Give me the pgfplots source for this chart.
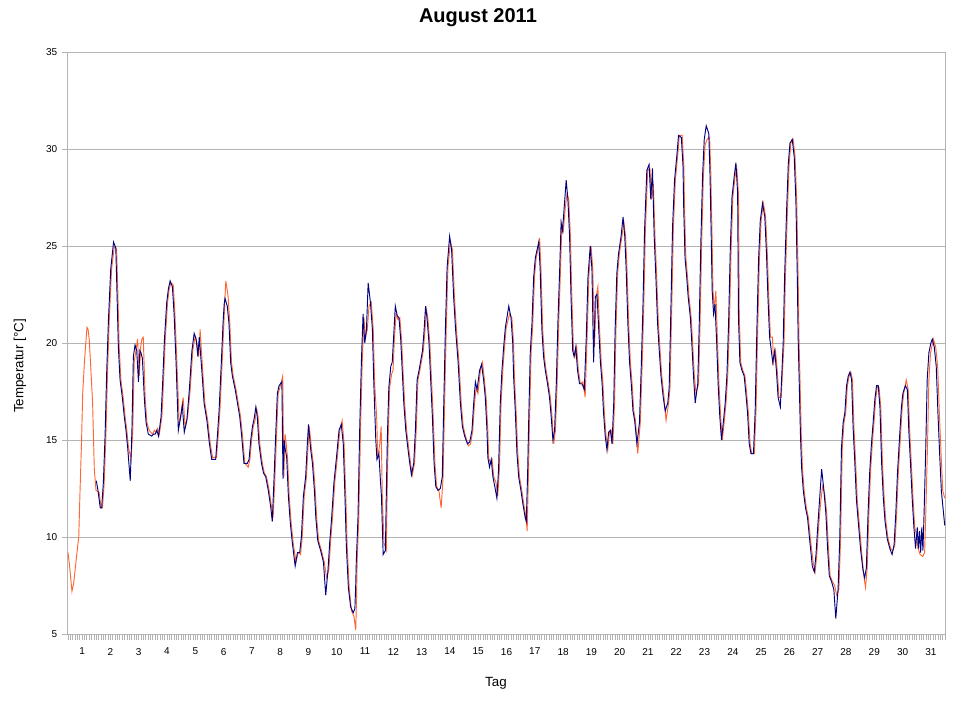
\documentclass[border=0pt]{standalone}
\usepackage{pgfplots}
\pgfplotsset{compat=1.18}
\usepackage{pgfplotstable}
\usepackage{fontspec}
\setmainfont{Liberation Sans}
\definecolor{ora}{RGB}{255,102,51}
\definecolor{nav}{RGB}{0,0,128}
\definecolor{gridc}{RGB}{179,179,179}
\pgfplotstableread{
d T
0.00 9.2
0.05 8.6
0.14 7.2
0.20 7.6
0.28 8.7
0.38 10.0
0.42 12.1
0.48 15.0
0.52 17.4
0.58 19.0
0.67 20.8
0.71 20.7
0.75 20.2
0.81 18.6
0.87 16.9
0.93 13.5
0.99 12.4
1.10 12.3
1.17 11.5
1.22 11.5
1.28 12.8
1.34 15.2
1.40 18.6
1.46 21.2
1.54 23.8
1.64 25.0
1.72 24.8
1.76 22.7
1.81 19.8
1.87 18.1
1.95 17.2
2.02 16.2
2.08 15.5
2.14 14.6
2.23 14.0
2.29 15.5
2.34 19.0
2.40 19.6
2.46 20.2
2.52 18.3
2.57 19.8
2.61 20.2
2.66 20.3
2.73 17.1
2.79 15.9
2.87 15.5
2.99 15.3
3.05 15.5
3.11 15.4
3.17 15.6
3.23 15.3
3.32 16.2
3.38 18.1
3.44 20.2
3.52 22.1
3.58 22.8
3.64 23.1
3.72 23.0
3.78 21.5
3.85 19.0
3.93 15.9
3.99 16.2
4.07 17.2
4.14 15.7
4.23 16.2
4.32 17.6
4.41 19.6
4.49 20.3
4.56 20.0
4.62 19.3
4.67 20.7
4.76 18.6
4.84 16.9
4.94 16.0
5.03 14.8
5.11 14.1
5.25 14.1
5.31 15.2
5.37 16.5
5.45 19.0
5.51 21.0
5.55 22.4
5.58 23.2
5.66 22.4
5.72 21.0
5.78 19.0
5.84 18.3
5.94 17.6
6.02 16.9
6.10 16.2
6.17 15.2
6.25 13.8
6.37 13.6
6.43 14.0
6.49 15.0
6.55 15.7
6.61 16.0
6.67 16.6
6.72 16.2
6.78 14.8
6.87 13.8
6.94 13.3
7.02 13.1
7.11 12.4
7.20 11.5
7.25 11.0
7.31 12.9
7.37 15.2
7.43 17.4
7.49 17.7
7.59 18.3
7.63 13.1
7.67 15.3
7.70 15.0
7.76 14.1
7.82 12.1
7.89 10.7
7.96 9.7
8.06 8.7
8.14 9.2
8.22 9.1
8.28 10.0
8.35 12.1
8.43 13.1
8.49 14.8
8.53 15.7
8.61 14.5
8.67 13.8
8.74 12.4
8.79 11.0
8.86 9.8
8.96 9.3
9.06 8.7
9.14 7.9
9.22 8.3
9.28 9.7
9.35 11.0
9.43 12.8
9.52 14.1
9.61 15.5
9.69 16.0
9.76 14.8
9.82 12.1
9.87 9.5
9.94 7.4
10.02 6.2
10.11 5.9
10.17 5.2
10.20 6.9
10.22 8.7
10.28 11.0
10.34 15.5
10.40 19.0
10.46 21.3
10.52 20.3
10.58 20.7
10.64 21.9
10.72 22.1
10.79 20.7
10.84 17.9
10.91 16.2
10.95 14.0
11.02 14.8
11.07 15.7
11.11 12.1
11.17 9.7
11.25 9.3
11.28 12.1
11.32 15.2
11.37 17.7
11.44 18.4
11.49 18.6
11.54 20.3
11.60 21.5
11.67 21.2
11.73 21.3
11.79 20.2
11.85 18.4
11.90 16.9
11.97 15.5
12.05 14.5
12.11 13.8
12.17 13.2
12.25 13.8
12.31 15.5
12.37 18.1
12.44 18.6
12.50 19.1
12.56 19.6
12.61 20.5
12.67 21.7
12.72 21.3
12.79 20.0
12.85 18.1
12.91 16.2
12.97 13.8
13.03 12.6
13.11 12.4
13.19 11.5
13.26 13.1
13.31 16.7
13.37 20.7
13.43 23.9
13.52 25.2
13.59 24.8
13.66 22.4
13.73 20.7
13.82 19.0
13.90 16.9
13.97 15.7
14.05 15.2
14.15 14.7
14.23 14.8
14.31 15.5
14.37 16.9
14.43 17.7
14.49 17.4
14.58 18.6
14.65 19.0
14.72 18.1
14.78 17.2
14.84 15.5
14.87 14.1
14.93 13.8
14.99 14.0
15.05 13.1
15.13 12.8
15.19 12.1
15.25 13.5
15.31 16.9
15.37 18.6
15.43 19.8
15.49 20.8
15.61 21.5
15.69 21.3
15.75 20.0
15.78 18.3
15.84 16.5
15.90 14.3
15.96 13.1
16.04 12.4
16.11 11.7
16.19 11.0
16.23 10.3
16.28 13.5
16.31 15.7
16.37 19.5
16.43 21.0
16.49 23.4
16.55 24.4
16.61 24.8
16.67 25.4
16.72 23.8
16.78 20.7
16.84 19.3
16.90 18.6
16.98 17.9
17.05 17.2
17.11 16.2
17.17 14.8
17.23 15.5
17.29 17.9
17.35 21.2
17.41 23.8
17.46 26.2
17.51 25.8
17.58 27.0
17.64 27.7
17.70 27.4
17.76 25.5
17.81 22.4
17.87 19.6
17.92 19.3
17.98 19.8
18.04 18.6
18.11 17.9
18.20 18.0
18.28 17.2
18.35 20.3
18.41 23.4
18.49 25.0
18.55 23.8
18.61 19.8
18.67 22.4
18.73 22.9
18.79 20.7
18.85 19.0
18.91 17.9
18.96 16.4
19.02 15.2
19.08 14.5
19.14 15.4
19.20 15.5
19.26 14.8
19.32 16.9
19.37 20.7
19.43 23.6
19.49 24.6
19.58 25.5
19.65 26.2
19.71 25.5
19.76 23.8
19.82 21.0
19.88 19.0
19.94 17.9
20.00 16.5
20.06 16.0
20.14 14.3
20.23 15.9
20.29 18.6
20.35 21.7
20.41 25.8
20.49 28.9
20.57 29.0
20.63 27.4
20.69 28.2
20.75 25.5
20.81 23.4
20.87 21.0
20.93 19.6
20.99 18.3
21.07 17.2
21.14 16.0
21.23 16.9
21.28 17.7
21.34 21.7
21.40 26.0
21.47 28.4
21.56 29.8
21.61 30.7
21.71 30.7
21.77 29.1
21.79 27.2
21.84 24.4
21.90 23.4
21.95 22.4
22.03 21.3
22.08 20.0
22.14 18.3
22.20 17.4
22.29 17.9
22.34 20.8
22.40 25.2
22.46 28.6
22.52 30.2
22.59 30.5
22.68 30.6
22.72 28.9
22.76 26.0
22.80 22.7
22.85 21.7
22.90 22.7
22.96 20.0
23.01 17.9
23.07 16.2
23.13 15.0
23.20 16.0
23.26 16.9
23.32 18.3
23.38 21.0
23.44 24.8
23.50 27.5
23.58 28.6
23.64 29.0
23.70 27.7
23.73 21.3
23.78 19.0
23.85 18.6
23.93 18.3
23.99 17.4
24.05 16.4
24.11 14.8
24.17 14.3
24.26 14.3
24.32 16.5
24.38 20.7
24.44 24.3
24.50 26.3
24.58 27.2
24.66 26.5
24.72 24.6
24.77 22.4
24.83 20.3
24.90 20.3
24.94 19.0
25.01 19.6
25.07 18.6
25.13 17.2
25.21 17.2
25.31 20.0
25.36 23.4
25.43 26.8
25.49 29.2
25.55 30.3
25.63 30.5
25.70 29.6
25.76 27.3
25.81 23.3
25.84 20.2
25.88 17.8
25.92 15.3
25.96 13.6
26.02 12.4
26.10 11.5
26.17 11.0
26.25 9.8
26.34 8.7
26.41 8.2
26.47 9.1
26.53 10.5
26.60 11.7
26.67 12.6
26.75 12.2
26.82 11.2
26.88 9.4
26.94 8.0
27.02 7.7
27.10 7.5
27.17 7.0
27.25 7.3
27.31 9.9
27.37 14.6
27.43 15.9
27.49 16.4
27.55 17.8
27.61 18.3
27.67 18.5
27.73 18.1
27.78 15.7
27.84 13.9
27.90 11.9
27.98 10.5
28.05 9.3
28.13 8.0
28.19 7.4
28.25 8.4
28.31 11.2
28.37 13.4
28.43 14.8
28.49 15.9
28.55 17.1
28.61 17.8
28.67 17.7
28.73 16.7
28.79 13.8
28.85 12.0
28.91 10.8
28.99 9.9
29.08 9.4
29.16 9.3
29.23 9.6
29.29 11.2
29.35 13.3
29.43 15.3
29.49 16.7
29.54 17.4
29.63 18.1
29.70 17.6
29.75 15.5
29.81 13.8
29.87 12.0
29.93 10.5
29.99 10.1
30.05 9.4
30.12 9.1
30.21 9.0
30.28 9.2
30.32 11.2
30.38 14.6
30.43 18.1
30.49 19.5
30.56 20.0
30.59 20.2
30.67 19.8
30.74 18.8
30.80 16.4
30.86 14.3
30.92 12.4
30.99 12.0
}\orangedata
\pgfplotstableread{
d T
1.00 12.9
1.06 12.4
1.14 11.5
1.19 11.5
1.25 12.8
1.31 15.2
1.37 18.6
1.43 21.2
1.51 23.8
1.61 25.2
1.69 24.9
1.73 22.7
1.78 19.8
1.84 18.1
1.92 17.2
1.99 16.2
2.05 15.5
2.11 14.6
2.20 12.9
2.26 15.5
2.31 19.3
2.37 19.9
2.43 19.6
2.49 18.0
2.54 19.6
2.58 19.5
2.63 19.2
2.70 17.1
2.76 15.9
2.84 15.3
2.96 15.2
3.02 15.3
3.08 15.3
3.14 15.5
3.20 15.2
3.29 16.2
3.35 18.1
3.41 20.2
3.49 22.1
3.55 22.8
3.61 23.2
3.69 22.9
3.75 21.5
3.82 19.0
3.90 15.5
3.96 16.0
4.04 16.8
4.11 15.4
4.20 16.0
4.29 17.6
4.38 19.6
4.46 20.5
4.53 20.2
4.59 19.3
4.64 20.3
4.73 18.6
4.81 16.9
4.91 16.0
5.00 14.8
5.08 14.0
5.22 14.0
5.28 15.2
5.34 16.5
5.42 19.0
5.48 21.0
5.52 22.0
5.55 22.3
5.63 21.9
5.69 21.0
5.75 19.0
5.81 18.3
5.91 17.6
5.99 16.9
6.07 16.2
6.14 15.2
6.22 13.8
6.34 13.8
6.40 14.0
6.46 15.0
6.52 15.7
6.58 16.1
6.64 16.7
6.69 16.2
6.75 14.8
6.84 13.8
6.91 13.3
6.99 13.1
7.08 12.4
7.17 11.5
7.22 10.8
7.28 12.9
7.34 15.2
7.40 17.4
7.46 17.8
7.56 18.0
7.60 13.0
7.64 15.0
7.67 14.6
7.73 14.1
7.79 12.1
7.86 10.7
7.93 9.7
8.03 8.5
8.11 9.2
8.19 9.2
8.25 10.0
8.32 12.1
8.40 13.1
8.46 14.8
8.50 15.8
8.58 14.5
8.64 13.8
8.71 12.4
8.76 11.0
8.83 9.8
8.93 9.3
9.03 8.7
9.11 7.0
9.19 8.3
9.25 9.7
9.32 11.0
9.40 12.8
9.49 14.1
9.58 15.5
9.66 15.8
9.73 14.8
9.79 12.1
9.84 9.5
9.91 7.4
9.99 6.4
10.08 6.1
10.14 6.3
10.17 7.5
10.19 8.7
10.25 11.0
10.31 15.5
10.37 19.0
10.43 21.5
10.49 20.0
10.55 20.7
10.61 23.1
10.69 22.1
10.76 20.7
10.81 17.9
10.88 15.0
10.92 14.0
10.99 14.3
11.04 13.0
11.08 12.1
11.14 9.1
11.22 9.3
11.25 12.1
11.29 15.2
11.34 17.7
11.41 18.8
11.46 19.0
11.51 20.3
11.57 21.9
11.64 21.4
11.70 21.3
11.76 20.2
11.82 18.4
11.87 16.9
11.94 15.5
12.02 14.5
12.08 13.8
12.14 13.2
12.22 13.8
12.28 15.5
12.34 18.1
12.41 18.6
12.47 19.1
12.53 19.6
12.58 20.5
12.64 21.9
12.69 21.3
12.76 20.0
12.82 18.1
12.88 16.2
12.94 13.8
13.00 12.6
13.08 12.4
13.16 12.5
13.23 13.1
13.28 16.7
13.34 20.7
13.40 23.9
13.49 25.5
13.56 24.8
13.63 22.4
13.70 20.7
13.79 19.0
13.87 16.9
13.94 15.7
14.02 15.2
14.12 14.8
14.20 14.9
14.28 15.5
14.34 16.9
14.40 18.0
14.46 17.6
14.55 18.6
14.62 18.9
14.69 18.1
14.75 17.2
14.81 15.5
14.84 14.1
14.90 13.6
14.96 14.0
15.02 13.1
15.10 12.5
15.16 12.0
15.22 13.5
15.28 16.9
15.34 18.6
15.40 19.8
15.46 20.8
15.58 21.9
15.66 21.3
15.72 20.0
15.75 18.3
15.81 16.5
15.87 14.3
15.93 13.1
16.01 12.4
16.08 11.7
16.16 11.0
16.20 10.8
16.25 13.5
16.28 15.7
16.34 19.5
16.40 21.0
16.46 23.4
16.52 24.4
16.58 24.8
16.64 25.2
16.69 23.8
16.75 20.7
16.81 19.3
16.87 18.6
16.95 17.9
17.02 17.2
17.08 16.2
17.14 15.0
17.20 15.5
17.26 17.9
17.32 21.2
17.38 23.8
17.43 26.2
17.48 25.8
17.55 27.2
17.61 28.4
17.67 27.4
17.73 25.5
17.78 22.4
17.84 19.6
17.89 19.3
17.95 19.8
18.01 18.6
18.08 17.9
18.17 17.9
18.25 17.6
18.32 20.3
18.38 23.4
18.46 25.0
18.52 23.8
18.58 19.0
18.64 22.4
18.70 22.5
18.76 20.7
18.82 19.0
18.88 17.9
18.93 16.4
18.99 15.2
19.05 14.5
19.11 15.4
19.17 15.5
19.23 14.8
19.29 16.9
19.34 20.7
19.40 23.6
19.46 24.6
19.55 25.5
19.62 26.5
19.68 25.5
19.73 23.8
19.79 21.0
19.85 19.0
19.91 17.9
19.97 16.5
20.03 16.0
20.11 14.8
20.20 15.9
20.26 18.6
20.32 21.7
20.38 25.8
20.46 28.9
20.54 29.2
20.60 27.4
20.66 29.0
20.72 25.5
20.78 23.4
20.84 21.0
20.90 19.6
20.96 18.3
21.04 17.2
21.11 16.5
21.20 16.9
21.25 17.7
21.31 21.7
21.37 26.0
21.44 28.4
21.53 29.8
21.58 30.7
21.68 30.6
21.74 29.1
21.76 27.2
21.81 24.4
21.87 23.4
21.92 22.4
22.00 21.3
22.05 20.0
22.11 18.3
22.17 16.9
22.26 17.9
22.31 20.8
22.37 25.2
22.43 28.6
22.49 30.5
22.56 31.2
22.65 30.8
22.69 28.9
22.73 26.0
22.77 22.7
22.82 21.5
22.87 22.0
22.93 20.0
22.98 17.9
23.04 16.2
23.10 15.0
23.17 16.0
23.23 16.9
23.29 18.3
23.35 21.0
23.41 24.8
23.47 27.5
23.55 28.6
23.61 29.3
23.67 27.7
23.70 21.3
23.75 19.0
23.82 18.6
23.90 18.3
23.96 17.4
24.02 16.4
24.08 14.8
24.14 14.3
24.23 14.3
24.29 16.5
24.35 20.7
24.41 24.3
24.47 26.3
24.55 27.2
24.63 26.5
24.69 24.6
24.74 22.4
24.80 20.3
24.87 19.5
24.91 19.0
24.98 19.6
25.04 18.6
25.10 17.2
25.18 16.7
25.28 20.0
25.33 23.4
25.40 26.8
25.46 29.2
25.52 30.3
25.60 30.5
25.67 29.6
25.73 27.3
25.78 23.3
25.81 20.2
25.85 17.8
25.89 15.3
25.93 13.6
25.99 12.4
26.07 11.5
26.14 11.0
26.22 9.8
26.31 8.5
26.38 8.2
26.44 9.1
26.50 10.5
26.57 12.0
26.64 13.5
26.72 12.4
26.79 11.2
26.85 9.4
26.91 8.0
26.99 7.7
27.07 7.3
27.14 5.8
27.22 7.3
27.28 9.9
27.34 14.6
27.40 15.9
27.46 16.4
27.52 17.8
27.58 18.3
27.64 18.5
27.70 18.1
27.75 15.7
27.81 13.9
27.87 11.9
27.95 10.5
28.02 9.3
28.10 8.3
28.16 7.9
28.22 8.4
28.28 11.2
28.34 13.4
28.40 14.8
28.46 15.9
28.52 17.1
28.58 17.8
28.64 17.8
28.70 16.7
28.76 13.8
28.82 12.0
28.88 10.8
28.96 9.9
29.05 9.4
29.13 9.1
29.20 9.6
29.26 11.2
29.32 13.3
29.40 15.3
29.46 16.7
29.51 17.4
29.60 17.8
29.67 17.6
29.72 15.5
29.78 13.8
29.84 12.0
29.90 10.5
29.96 9.4
30.02 10.5
30.06 9.4
30.10 10.3
30.14 9.2
30.18 10.5
30.22 9.3
30.26 11.2
30.32 14.6
30.37 18.1
30.43 19.5
30.50 20.0
30.55 20.2
30.62 19.8
30.69 18.8
30.75 16.4
30.81 14.3
30.87 12.4
30.93 11.5
30.99 10.6
}\bluedata
\begin{document}
\begin{tikzpicture}
\useasboundingbox (-51pt,-49.5pt) rectangle (666pt,475.5pt);
\begin{axis}[
  name=ax, at={(0,0)}, anchor=south west,
  scale only axis, width=657.75pt, height=436.5pt,
  xmin=0, xmax=31, ymin=5, ymax=35,
  axis line style={gridc, line width=0.75pt},
  ymajorgrids, grid style={gridc, line width=0.75pt},
  ytick={5,10,...,35},
  xtick={0,0.0833333,...,31.01},
  xticklabels={},
  extra x ticks={0.5,1.5,...,30.5},
  extra x tick labels={1,2,3,4,5,6,7,8,9,10,11,12,13,14,15,16,17,18,19,20,21,22,23,24,25,26,27,28,29,30,31},
  extra x tick style={xticklabel style={yshift=-2.5pt}},
  tick pos=left,
  tick align=outside, major tick length=4.5pt,
  tick style={gridc, line width=0.6pt},
  /pgf/number format/assume math mode=true,
  tick label style={font=\fontsize{7.5}{9}\selectfont, black},
  title={August 2011},
  every axis title/.style={font=\bfseries\fontsize{15}{18}\selectfont, at={([xshift=-21.4pt,yshift=25.5pt]axis description cs:0.5,1)}, anchor=center},
  xlabel={Tag},
  every axis x label/.style={font=\fontsize{10}{12}\selectfont, at={([xshift=-7.9pt,yshift=-36.75pt]axis description cs:0.5,0)}, anchor=center},
  ylabel={Temperatur [°C]},
  every axis y label/.style={font=\fontsize{10}{12}\selectfont, rotate=90, at={([xshift=-36pt,yshift=-17.25pt]axis description cs:0,0.5)}, anchor=center},
  every axis plot/.append style={no marks, sharp plot, line width=0.7pt},
]
\addplot[ora] table[x=d, y=T] {\orangedata};
\addplot[nav] table[x=d, y=T] {\bluedata};
\end{axis}
\end{tikzpicture}
\end{document}
